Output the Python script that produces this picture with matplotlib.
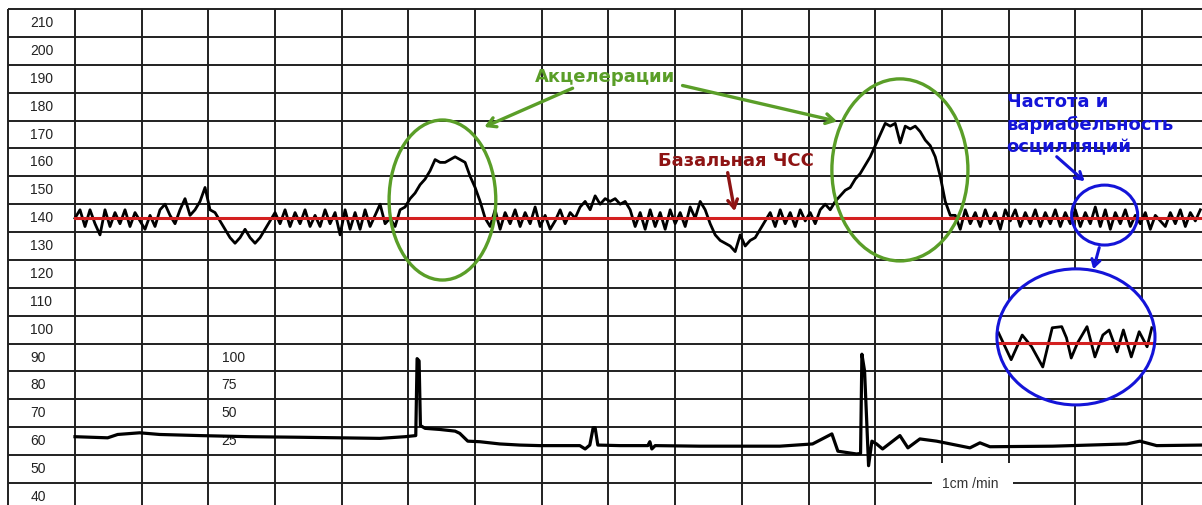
import matplotlib.pyplot as plt
import numpy as np
from matplotlib.patches import Ellipse, Rectangle

# fetal heart rate (bpm), one sample every 0.075 min
fhr_step = 0.075
fhr_bpm = [
    140, 143, 137, 143, 138, 134, 143, 137, 142, 138,
    143, 137, 142, 139, 136, 141, 137, 143, 145, 141,
    138, 143, 147, 141, 143, 146, 151, 143, 142, 139,
    136, 133, 131, 133, 136, 133, 131, 133, 136, 139,
    142, 138, 143, 137, 142, 138, 143, 137, 141, 137,
    143, 138, 142, 134, 143, 136, 142, 136, 143, 137,
    141, 145, 138, 140, 137, 143, 144, 147, 149, 152,
    154, 157, 161, 160, 160, 161, 162, 161, 160, 155,
    151, 146, 140, 137, 143, 136, 142, 138, 143, 137,
    142, 138, 144, 137, 141, 136, 139, 143, 138, 142,
    140, 144, 146, 143, 148, 145, 147, 146, 147, 145,
    146, 143, 137, 142, 136, 143, 137, 142, 136, 143,
    138, 142, 137, 144, 140, 146, 143, 138, 134, 132,
    131, 130, 128, 134, 130, 132, 133, 136, 139, 142,
    137, 143, 138, 142, 137, 143, 139, 142, 138, 143,
    145, 143, 146, 148, 150, 151, 154, 156, 159, 162,
    166, 170, 174, 173, 174, 167, 173, 172, 173, 171,
    168, 166, 162, 155, 146, 141, 141, 136, 143, 138,
    142, 137, 143, 138, 142, 136, 143, 139, 143, 137,
    142, 138, 143, 137, 142, 138, 143, 137, 142, 138,
    143, 137, 142, 138, 144, 137, 143, 136, 142, 138,
    143, 137, 141, 138, 142, 136, 141, 139, 137, 142,
    138, 143, 137, 142, 139, 143,
]
baseline_bpm = 140

# uterine activity (toco units), time in min
toco_t = [0.00, 0.49, 0.64, 0.97, 1.27, 1.87, 2.62, 3.37, 3.97, 4.57, 4.95,
          5.11, 5.13, 5.16, 5.18, 5.25, 5.47, 5.70, 5.77, 5.89, 6.07, 6.37,
          6.67, 6.97, 7.27, 7.57, 7.65, 7.72, 7.77, 7.80, 7.84, 8.17, 8.59,
          8.62, 8.65, 8.70, 9.37, 10.12, 10.57, 11.06, 11.35, 11.44, 11.72,
          11.78, 11.80, 11.84, 11.87, 11.90, 11.95, 12.02, 12.11, 12.37,
          12.49, 12.67, 12.92, 13.42, 13.57, 13.72, 14.66, 15.77, 15.97,
          16.22, 16.90]
toco_val = [29, 28, 31, 32.5, 31, 30, 29, 28.5, 28, 27.5, 29,
            30, 99, 97, 39, 36.5, 35.5, 34, 32, 25, 24.5, 22.5,
            21.5, 21, 21, 21, 18, 21.5, 37, 37, 21.5, 21, 21,
            24.5, 18, 21, 20.5, 20.5, 20.5, 22.5, 31.5, 16, 13.5,
            14, 103, 88, 46, 3, 25, 22.5, 18, 30,
            19, 27, 25, 19, 23.5, 20, 20.5, 22.5, 25,
            21, 21.5]
toco_labels = [100, 75, 50, 25]

bpm_labels = list(range(210, 30, -10))

# magnified view inside the big blue circle
zoom_t = [0.01, 0.09, 0.16, 0.22, 0.29, 0.35, 0.41, 0.44, 0.47, 0.51,
          0.57, 0.62, 0.67, 0.71, 0.76, 0.80, 0.85, 0.90, 0.95, 0.98]
zoom_bpm = [141.8, 137.0, 141.4, 139.3, 135.7, 142.7, 142.9, 140.9, 137.3, 140.0,
            142.9, 137.5, 141.4, 142.3, 138.4, 142.3, 137.5, 142.0, 139.3, 142.7]


def toco_pos(v):
    # toco scale sits on the bpm grid: 25 -> 60, 100 -> 90
    return 50 + 0.4 * np.asarray(v)


grid_c = '#202020'
green = '#5a9e28'
dred = '#8e1414'
blue = '#1414d8'
red = '#d42020'

fig = plt.figure(figsize=(12.02, 5.05), dpi=100)
ax = fig.add_axes([0, 0, 1, 1])
x0, x1 = -1.1245, 16.9
y0, y1 = 37.1, 218.25
ax.set_xlim(x0, x1)
ax.set_ylim(y0, y1)
ax.axis('off')

# chart paper grid
for v in range(215, 40, -10):
    ax.plot([-1, x1], [v, v], color=grid_c, lw=1.4, zorder=3, solid_capstyle='butt')
for t in range(-1, 17):
    ax.plot([t, t], [y0, 215], color=grid_c, lw=1.4, zorder=1, solid_capstyle='butt')

for v in bpm_labels:
    ax.text(-0.67, v, str(v), fontsize=10, family='Liberation Sans',
            ha='left', va='center', color='#222222', zorder=4)
for tv in toco_labels:
    ax.text(2.2, toco_pos(tv), str(tv), fontsize=10, family='Liberation Sans',
            ha='left', va='center', color='#222222', zorder=4)

# traces
fhr_t = np.arange(len(fhr_bpm)) * fhr_step
ax.plot(fhr_t, fhr_bpm, color='black', lw=2.0, zorder=5)
ax.plot([0, x1], [baseline_bpm, baseline_bpm], color=red, lw=2.2, zorder=6)
ax.plot(toco_t, toco_pos(toco_val), color='black', lw=2.3, zorder=5)

# label at the bottom
ax.add_patch(Rectangle((12.85, y0), 1.21, 15.1, facecolor='white', edgecolor='none', zorder=4))
ax.text(13.43, 44.6, '1cm /min', fontsize=10, family='Liberation Sans',
        ha='center', va='center', color='#333333', zorder=5)

# accelerations
ax.add_patch(Ellipse((5.51, 146.5), 1.60, 57.4, fill=False, edgecolor=green, lw=2.4, zorder=7))
ax.add_patch(Ellipse((12.37, 157.3), 2.04, 65.3, fill=False, edgecolor=green, lw=2.4, zorder=7))
ax.text(7.95, 190.6, 'Акцелерации', fontsize=13, fontweight='bold', color=green,
        ha='center', va='center', zorder=8)
arr_g = dict(arrowstyle='->, head_length=0.6, head_width=0.35', color=green, lw=2.4)
ax.annotate('', xy=(6.10, 172.3), xytext=(7.50, 187.0), arrowprops=arr_g, zorder=8)
ax.annotate('', xy=(11.47, 174.5), xytext=(9.07, 187.8), arrowprops=arr_g, zorder=8)

# baseline
ax.text(9.91, 160.5, 'Базальная ЧСС', fontsize=13, fontweight='bold', color=dred,
        ha='center', va='center', zorder=8)
ax.annotate('', xy=(9.90, 141.5), xytext=(9.78, 157.3),
            arrowprops=dict(arrowstyle='->, head_length=0.6, head_width=0.35', color=dred, lw=2.4),
            zorder=8)

# variability
ax.text(13.97, 184.8, 'Частота и\nвариабельность\nосцилляций', fontsize=13,
        fontweight='bold', color=blue, ha='left', va='top', linespacing=1.32, zorder=8)
arr_b = dict(arrowstyle='->, head_length=0.5, head_width=0.3', color=blue, lw=2.2)
ax.annotate('', xy=(15.17, 152.6), xytext=(14.69, 162.7), arrowprops=arr_b, zorder=8)
ax.add_patch(Ellipse((15.44, 141.1), 0.99, 21.5, fill=False, edgecolor=blue, lw=2.2, zorder=7))
ax.annotate('', xy=(15.26, 120.7), xytext=(15.37, 130.4), arrowprops=arr_b, zorder=8)

big = dict(xy=(15.01, 97.4), width=2.37, height=48.8)
ax.add_patch(Ellipse(**big, facecolor='white', edgecolor='none', zorder=2))
ax.add_patch(Ellipse(**big, fill=False, edgecolor=blue, lw=2.2, zorder=9))

ins = ax.inset_axes([15.01 - 2.37 / 2, 97.4 - 48.8 / 2, 2.37, 48.8], transform=ax.transData)
ins.set_xlim(0, 1)
ins.set_ylim(128.93, 153.21)
ins.axis('off')
ins.patch.set_alpha(0)
ins.set_zorder(8)
clip = Ellipse((0.5, 0.5), 1, 1, transform=ins.transAxes)
l1, = ins.plot([0, 1], [baseline_bpm, baseline_bpm], color=red, lw=2.2, zorder=3)
l2, = ins.plot(zoom_t, zoom_bpm, color='black', lw=2.0, zorder=2)
l1.set_clip_path(clip)
l2.set_clip_path(clip)

fig.savefig('out.png', dpi=100)
